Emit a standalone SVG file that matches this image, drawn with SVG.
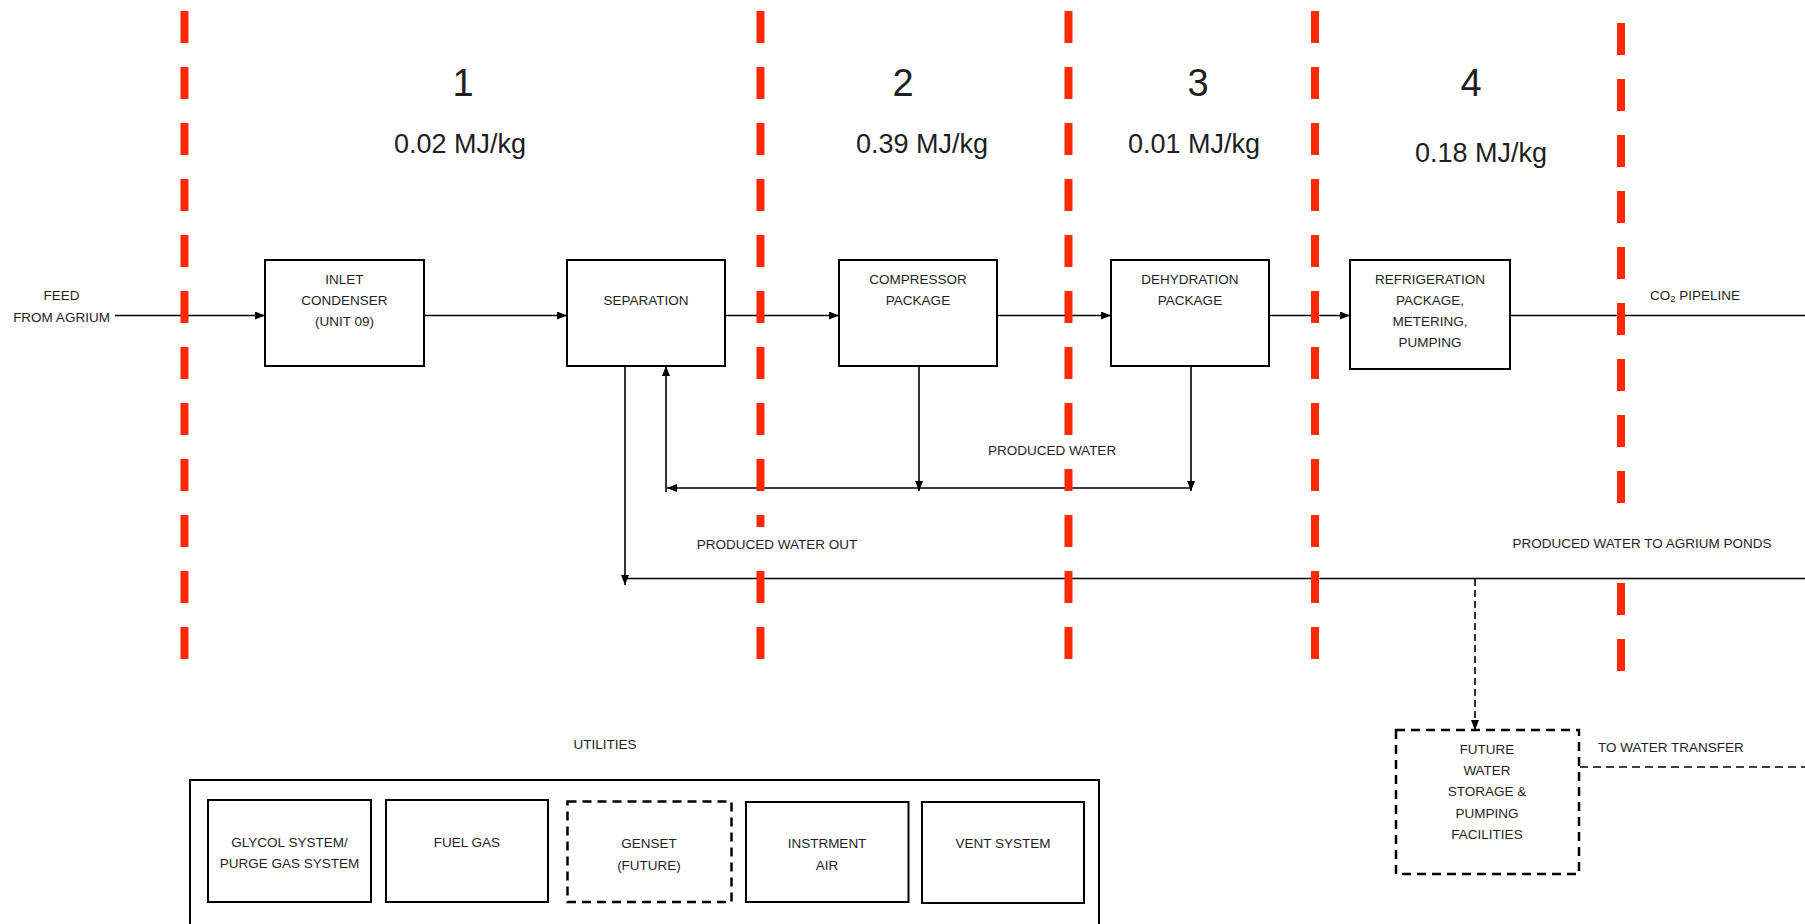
<svg xmlns="http://www.w3.org/2000/svg" width="1805" height="924" viewBox="0 0 1805 924">
<style>
.box{fill:#fff;stroke:#000;stroke-width:2}
.dbox{fill:#fff;stroke:#000;stroke-width:2.5;stroke-dasharray:9 6}
.ln{fill:none;stroke:#000;stroke-width:1.6}
.dln{fill:none;stroke:#000;stroke-width:1.6;stroke-dasharray:7 4}
.red{stroke:#FF2A00;stroke-width:8;stroke-dasharray:32 24}
text{font-family:"Liberation Sans",Arial,sans-serif;fill:#1e1e1e;text-anchor:middle}
.t{font-size:13.5px}
.num{font-size:38px}
.mj{font-size:27px}
.bg{fill:#fff}
</style>
<defs>
<marker id="arr" markerUnits="userSpaceOnUse" markerWidth="10" markerHeight="8" refX="10" refY="4" orient="auto">
<path d="M0,0 L10,4 L0,8 z" fill="#000"/>
</marker>
</defs>
<rect width="1805" height="924" fill="#fff"/>

<g id="connectors">
<line class="ln" x1="115" y1="315.5" x2="265" y2="315.5" marker-end="url(#arr)"/>
<line class="ln" x1="424" y1="315.5" x2="567" y2="315.5" marker-end="url(#arr)"/>
<line class="ln" x1="725" y1="315.5" x2="839" y2="315.5" marker-end="url(#arr)"/>
<line class="ln" x1="997" y1="315.5" x2="1111" y2="315.5" marker-end="url(#arr)"/>
<line class="ln" x1="1269" y1="315.5" x2="1350" y2="315.5" marker-end="url(#arr)"/>
<line class="ln" x1="1510" y1="315.5" x2="1805" y2="315.5"/>
<line class="ln" x1="625" y1="366" x2="625" y2="585" marker-end="url(#arr)"/>
<line class="ln" x1="625" y1="578.5" x2="1805" y2="578.5"/>
<line class="ln" x1="666" y1="492" x2="666" y2="366" marker-end="url(#arr)"/>
<line class="ln" x1="1191" y1="488" x2="667" y2="488" marker-end="url(#arr)"/>
<line class="ln" x1="919" y1="366" x2="919" y2="491" marker-end="url(#arr)"/>
<line class="ln" x1="1191" y1="366" x2="1191" y2="491" marker-end="url(#arr)"/>
<line class="dln" x1="1475" y1="579" x2="1475" y2="730" marker-end="url(#arr)"/>
<line class="dln" x1="1580" y1="767" x2="1805" y2="767" style="stroke-dasharray:8 5"/>
</g>

<g id="dividers">
<line class="red" x1="184.5" y1="11" x2="184.5" y2="659"/>
<line class="red" x1="760.5" y1="11" x2="760.5" y2="659"/>
<line class="red" x1="1068.5" y1="11" x2="1068.5" y2="659"/>
<line class="red" x1="1315" y1="11" x2="1315" y2="659"/>
<line class="red" x1="1621" y1="23" x2="1621" y2="671"/>
</g>

<g id="stage-labels">
<text class="num" x="463" y="96">1</text>
<text class="num" x="903" y="96">2</text>
<text class="num" x="1198" y="96">3</text>
<text class="num" x="1471" y="96">4</text>
<text class="mj" x="460" y="153">0.02 MJ/kg</text>
<text class="mj" x="922" y="153">0.39 MJ/kg</text>
<text class="mj" x="1194" y="153">0.01 MJ/kg</text>
<text class="mj" x="1481" y="162">0.18 MJ/kg</text>
</g>

<g id="feed">
<text class="t" x="61.5" y="300">FEED</text>
<text class="t" x="61.5" y="321.5">FROM AGRIUM</text>
</g>

<g id="inlet-condenser">
<rect class="box" x="265" y="260" width="159" height="106"/>
<text class="t" x="344.5" y="284">INLET</text>
<text class="t" x="344.5" y="305">CONDENSER</text>
<text class="t" x="344.5" y="326">(UNIT 09)</text>
</g>

<g id="separation">
<rect class="box" x="567" y="260" width="158" height="106"/>
<text class="t" x="646" y="305">SEPARATION</text>
</g>

<g id="compressor">
<rect class="box" x="839" y="260" width="158" height="106"/>
<text class="t" x="918" y="284">COMPRESSOR</text>
<text class="t" x="918" y="305">PACKAGE</text>
</g>

<g id="dehydration">
<rect class="box" x="1111" y="260" width="158" height="106"/>
<text class="t" x="1190" y="284">DEHYDRATION</text>
<text class="t" x="1190" y="305">PACKAGE</text>
</g>

<g id="refrigeration">
<rect class="box" x="1350" y="260" width="160" height="109"/>
<text class="t" x="1430" y="284">REFRIGERATION</text>
<text class="t" x="1430" y="305">PACKAGE,</text>
<text class="t" x="1430" y="326">METERING,</text>
<text class="t" x="1430" y="347">PUMPING</text>
</g>

<g id="co2-pipeline">
<text class="t" x="1695" y="300">CO<tspan font-size="9.5" dy="2">2</tspan><tspan dy="-2"> PIPELINE</tspan></text>
</g>

<g id="produced-water">
<rect class="bg" x="986" y="436" width="132" height="33"/>
<text class="t" x="1052" y="455">PRODUCED WATER</text>
</g>

<g id="produced-water-out">
<rect class="bg" x="694" y="527" width="166" height="34"/>
<text class="t" x="777" y="549">PRODUCED WATER OUT</text>
</g>

<g id="produced-water-ponds">
<rect class="bg" x="1506" y="525" width="272" height="36"/>
<text class="t" x="1642" y="548">PRODUCED WATER TO AGRIUM PONDS</text>
</g>

<g id="future-water">
<rect class="dbox" x="1396" y="730" width="183" height="144"/>
<text class="t" x="1487" y="754">FUTURE</text>
<text class="t" x="1487" y="775">WATER</text>
<text class="t" x="1487" y="796">STORAGE &amp;</text>
<text class="t" x="1487" y="818">PUMPING</text>
<text class="t" x="1487" y="839">FACILITIES</text>
</g>

<g id="water-transfer">
<text class="t" x="1671" y="752">TO WATER TRANSFER</text>
</g>

<g id="utilities">
<text class="t" x="605" y="749">UTILITIES</text>
<rect class="box" x="190" y="780" width="909" height="160"/>
</g>

<g id="glycol">
<rect class="box" x="208" y="800" width="163" height="102"/>
<text class="t" x="289.5" y="846.5">GLYCOL SYSTEM/</text>
<text class="t" x="289.5" y="867.5">PURGE GAS SYSTEM</text>
</g>

<g id="fuel-gas">
<rect class="box" x="386" y="800" width="162" height="102"/>
<text class="t" x="467" y="846.5">FUEL GAS</text>
</g>

<g id="genset">
<rect class="dbox" x="567.5" y="801.5" width="164" height="100.5"/>
<text class="t" x="649" y="848">GENSET</text>
<text class="t" x="649" y="869.5">(FUTURE)</text>
</g>

<g id="instrument-air">
<rect class="box" x="746" y="802" width="162.5" height="100"/>
<text class="t" x="827" y="848">INSTRMENT</text>
<text class="t" x="827" y="869.5">AIR</text>
</g>

<g id="vent-system">
<rect class="box" x="922" y="802" width="162" height="101"/>
<text class="t" x="1003" y="848">VENT SYSTEM</text>
</g>
</svg>
